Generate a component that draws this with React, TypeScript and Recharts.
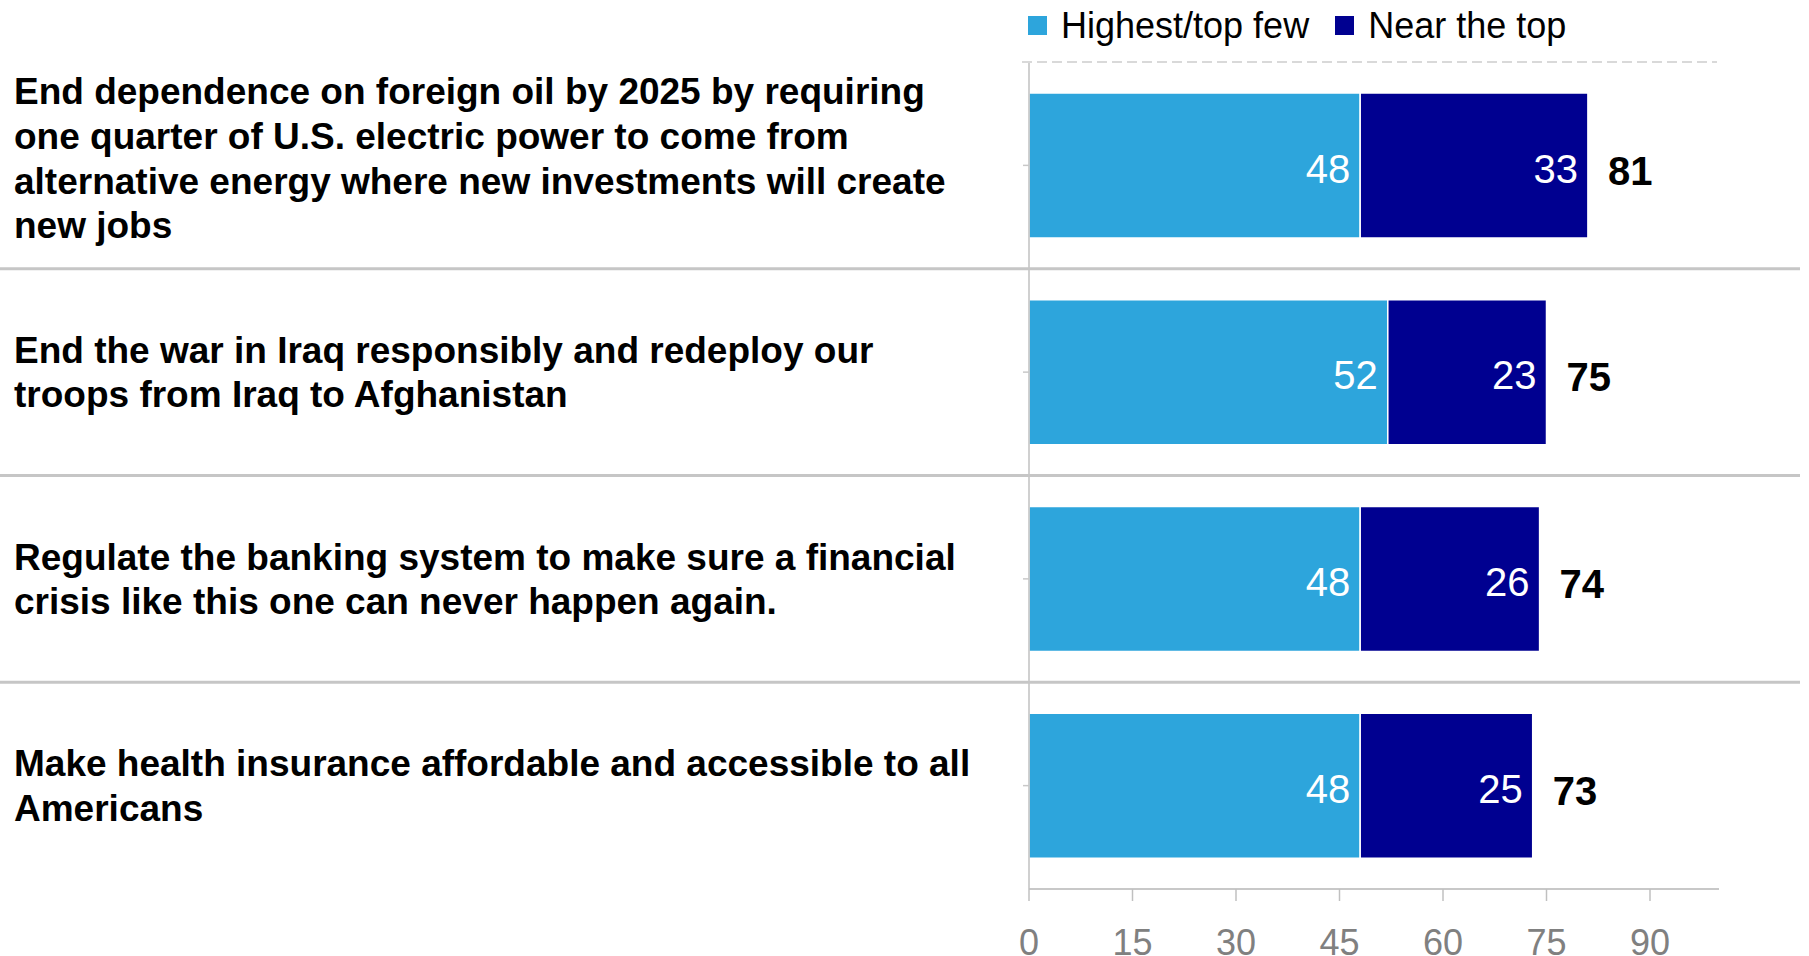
import React from "react";
import { BarChart, Bar, XAxis, YAxis, LabelList } from "recharts";

const categories = [
  "End dependence on foreign oil by 2025 by requiring\none quarter of U.S. electric power to come from\nalternative energy where new investments will create\nnew jobs",
  "End the war in Iraq responsibly and redeploy our\ntroops from Iraq to Afghanistan",
  "Regulate the banking system to make sure a financial\ncrisis like this one can never happen again.",
  "Make health insurance affordable and accessible to all\nAmericans",
];
const highestValues = [48, 52, 48, 48];
const nearTopValues = [33, 23, 26, 25];
const totalValues = [81, 75, 74, 73];
const xTicks = [0, 15, 30, 45, 60, 75, 90];
const seriesNames = ["Highest/top few", "Near the top"];
const seriesKeys = ["highest", "near"];
const seriesColors = ["#2DA5DC", "#000090"];

const data = categories.map((c, i) => ({
  category: c,
  highest: highestValues[i],
  near: nearTopValues[i],
  total: totalValues[i],
}));

const FONT = "'Liberation Sans', Arial, Helvetica, sans-serif";
const W = 1809;
const H = 956;
const M = { top: 62, right: 90, bottom: 0, left: 0 };
const X_AXIS_H = 67;
const Y_AXIS_W = 1029;
const BAND = (H - M.top - M.bottom - X_AXIS_H) / categories.length;

const YTick = (props: any) => {
  const { y, payload, index } = props;
  const lines = String(payload.value).split("\n");
  const lh = 44.6;
  const startY = y - ((lines.length - 1) * lh) / 2 - Math.max(0, lines.length - 2) * 3.5;
  return (
    <g>
      {index === 0 && (
        <line
          x1={Y_AXIS_W - 7}
          x2={W - M.right - 2}
          y1={y - BAND / 2}
          y2={y - BAND / 2}
          stroke="#D9D9D9"
          strokeWidth={2}
          strokeDasharray="10 5"
        />
      )}
      {index < categories.length - 1 && (
        <line x1={0} x2={1800} y1={y + BAND / 2} y2={y + BAND / 2} stroke="#C6C6C6" strokeWidth={3} />
      )}
      <text fontFamily={FONT} fontSize={37} fontWeight="bold" fill="#000" textAnchor="start">
        {lines.map((ln, i) => (
          <tspan key={i} x={14} y={startY + i * lh} dy="0.35em">
            {ln}
          </tspan>
        ))}
      </text>
    </g>
  );
};

export default function App() {
  return (
    <div style={{ position: "relative", width: W, height: H, background: "#fff" }}>
      <style>{`body{margin:0;}`}</style>
      <div
        style={{
          position: "absolute",
          left: 1028,
          top: 8,
          height: 35,
          display: "flex",
          alignItems: "center",
          fontFamily: FONT,
          fontSize: 36,
          lineHeight: "35px",
          color: "#000",
          whiteSpace: "nowrap",
          zIndex: 2,
        }}
      >
        {seriesNames.map((n, i) => (
          <div key={n} style={{ display: "flex", alignItems: "center", marginRight: 26 }}>
            <div style={{ width: 19, height: 19, background: seriesColors[i], marginRight: 14 }} />
            <span>{n}</span>
          </div>
        ))}
      </div>
      <BarChart width={W} height={H} data={data} layout="vertical" margin={M} barCategoryGap="15%">
        <XAxis
          type="number"
          domain={[0, 100]}
          ticks={xTicks}
          interval={0}
          height={X_AXIS_H}
          axisLine={{ stroke: "#C8C8C8", strokeWidth: 2 }}
          tickLine={{ stroke: "#C0C0C0", strokeWidth: 1.5 }}
          tickSize={12}
          tickMargin={28}
          tick={{ fill: "#808080", fontSize: 36, fontFamily: FONT }}
        />
        <YAxis
          type="category"
          dataKey="category"
          width={Y_AXIS_W}
          interval={0}
          axisLine={{ stroke: "#C0C0C0", strokeWidth: 1.5 }}
          tickLine={{ stroke: "#C8C8C8", strokeWidth: 1.5 }}
          tickSize={6}
          tick={(p: any) => <YTick {...p} />}
        />
        {seriesKeys.map((k, i) => (
          <Bar
            key={k}
            dataKey={k}
            name={seriesNames[i]}
            stackId="a"
            fill={seriesColors[i]}
            stroke="#fff"
            strokeWidth={1.5}
            isAnimationActive={false}
          >
            <LabelList
              dataKey={k}
              position="insideRight"
              offset={10}
              fill="#fff"
              fontSize={40}
              fontFamily={FONT}
              dy={3}
            />
            {i === seriesKeys.length - 1 && (
              <LabelList
                dataKey="total"
                position="right"
                offset={20}
                fill="#000"
                fontSize={40}
                fontWeight="bold"
                fontFamily={FONT}
                dy={5}
              />
            )}
          </Bar>
        ))}
      </BarChart>
    </div>
  );
}
